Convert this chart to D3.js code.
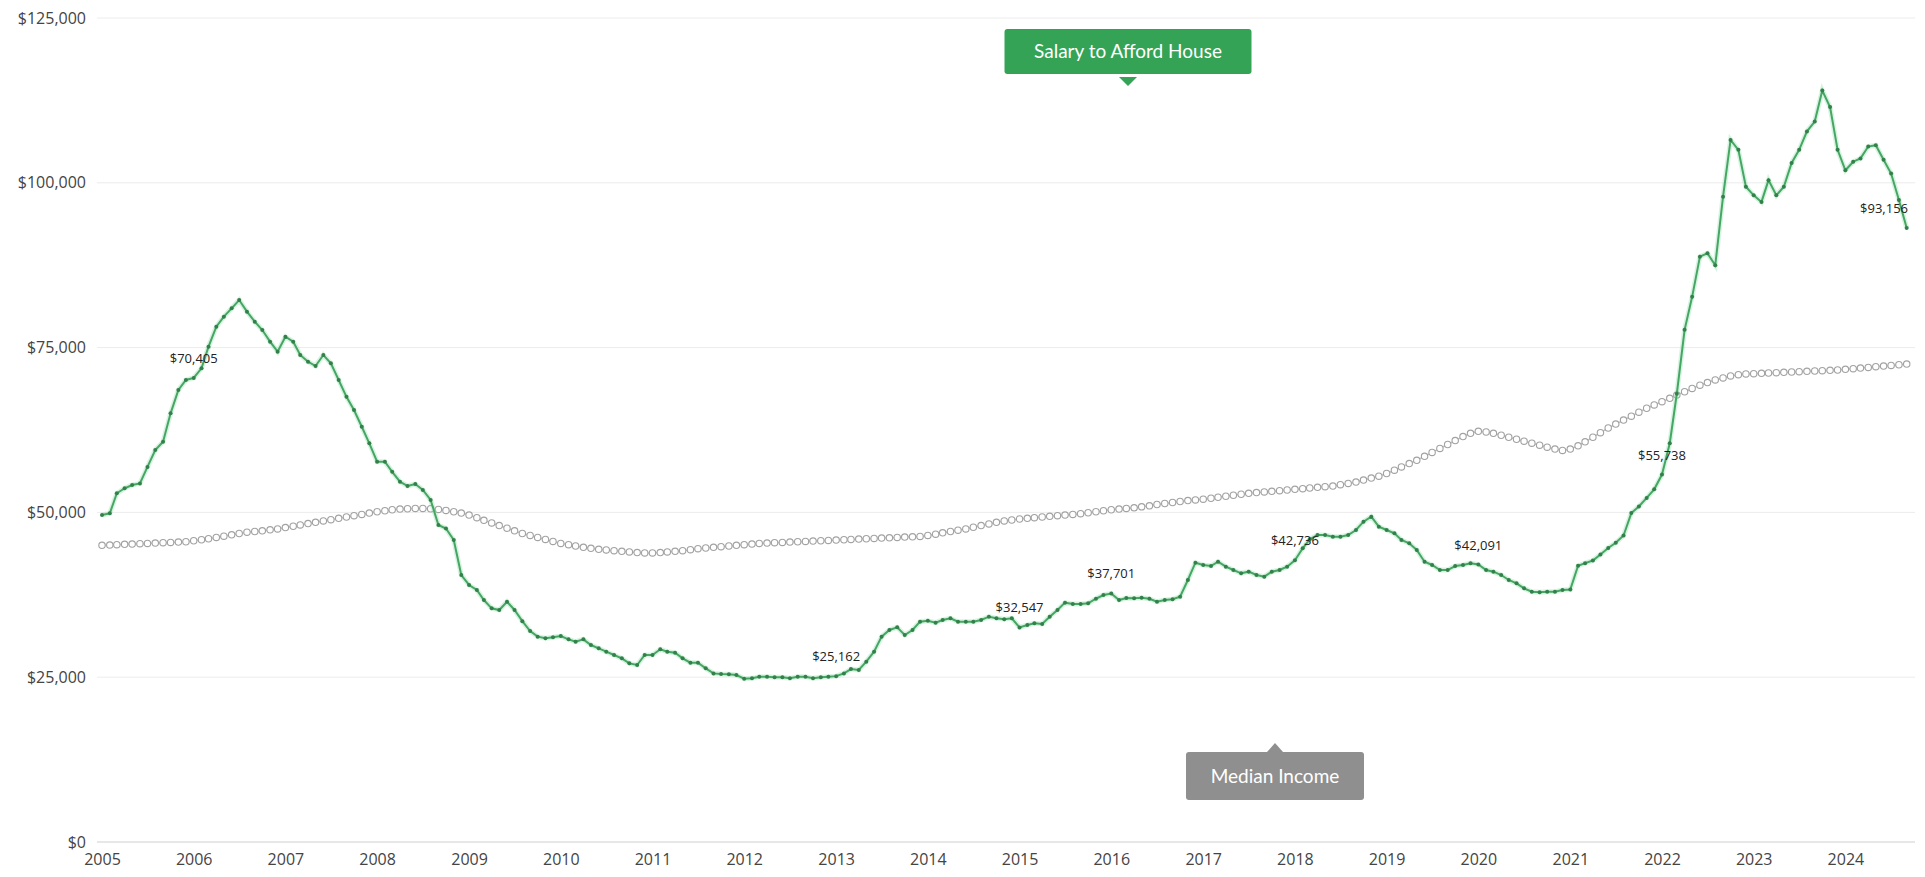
<!DOCTYPE html>
<html>
<head>
<meta charset="utf-8">
<script src="https://cdn.jsdelivr.net/npm/d3@7"></script>
<style>
  body { margin: 0; background: #fff; }
  svg { display: block; font-family: "Open Sans", sans-serif; }
</style>
</head>
<body>
<div id="chart"></div>
<script>
// Monthly series, starting January 2005
const startYear = 2005;

// Salary needed to afford a house ($)
const salaryToAfford = [
  49600, 49860, 52900, 53660, 54160, 54400, 56900, 59470, 60730, 65030, 68570, 70090,
  70405, 71860, 75140, 78170, 79690, 80960, 82220, 80450, 78930, 77670, 75900, 74380,
  76650, 75900, 73880, 72870, 72210, 73880, 72620, 70090, 67530, 65530, 63000, 60480,
  57690, 57690, 56160, 54660, 54000, 54310, 53400, 51880, 48090, 47560, 45810, 40500,
  38990, 38230, 36710, 35450, 35190, 36450, 35200, 33500, 32000, 31150, 30900, 31050,
  31250, 30740, 30390, 30740, 29880, 29380, 28870, 28370, 27860, 27100, 26850, 28370,
  28370, 29230, 28870, 28720, 27860, 27200, 27200, 26340, 25580, 25490, 25430, 25330,
  24780, 24830, 25080, 25080, 24980, 24980, 24830, 25080, 25080, 24830, 24980, 25080,
  25162, 25580, 26240, 26090, 27360, 28870, 31150, 32160, 32570, 31400, 32160, 33420,
  33570, 33270, 33680, 33930, 33420, 33420, 33420, 33680, 34180, 33930, 33780, 33930,
  32547, 32920, 33170, 33070, 34180, 35190, 36310, 36100, 36100, 36210, 36900, 37470,
  37701, 36700, 37000, 36970, 37060, 36900, 36450, 36710, 36820, 37210, 39750, 42370,
  42020, 41870, 42520, 41770, 41260, 40760, 41010, 40500, 40250, 41010, 41260, 41770,
  42736, 44550, 45920, 46570, 46570, 46320, 46320, 46570, 47330, 48590, 49350, 47830,
  47330, 46820, 45810, 45310, 44300, 42520, 42020, 41260, 41260, 41870, 42020, 42300,
  42091, 41260, 41010, 40500, 39750, 39240, 38480, 37970, 37870, 37970, 37970, 38230,
  38300, 41900, 42300, 42700, 43600, 44600, 45400, 46500, 49900, 50900, 52200, 53500,
  55738, 60500, 68000, 77700, 82700, 88800, 89300, 87500, 97900, 106500, 105000, 99400,
  98100, 97100, 100400, 98100, 99400, 103000, 105000, 107800, 109300, 114000, 111500, 105000,
  101900, 103200, 103700, 105500, 105700, 103500, 101400, 97400, 93156
];

// Median income (thousands of $)
const medianIncomeK = [
  45.0, 45.05, 45.1, 45.15, 45.2, 45.25, 45.3, 45.35, 45.4, 45.45, 45.5, 45.55,
  45.7, 45.85, 46.0, 46.2, 46.4, 46.6, 46.8, 47.0, 47.1, 47.2, 47.35, 47.5,
  47.7, 47.9, 48.1, 48.3, 48.5, 48.7, 48.9, 49.1, 49.3, 49.5, 49.7, 49.9,
  50.1, 50.25, 50.4, 50.5, 50.55, 50.6, 50.6, 50.55, 50.45, 50.3, 50.1, 49.9,
  49.6, 49.2, 48.8, 48.4, 48.0, 47.6, 47.2, 46.8, 46.5, 46.2, 45.9, 45.6,
  45.3, 45.1, 44.9, 44.7, 44.55, 44.4, 44.3, 44.2, 44.1, 44.0, 43.9, 43.85,
  43.85, 43.9, 44.0, 44.1, 44.2, 44.35, 44.5, 44.6, 44.7, 44.8, 44.9, 45.0,
  45.1, 45.2, 45.3, 45.35, 45.4, 45.45, 45.5, 45.55, 45.6, 45.65, 45.7, 45.75,
  45.8, 45.85, 45.9, 45.95, 46.0, 46.05, 46.1, 46.15, 46.2, 46.25, 46.3, 46.35,
  46.5, 46.7, 46.9, 47.1, 47.3, 47.5, 47.75, 48.0, 48.25, 48.5, 48.7, 48.85,
  49.0, 49.1, 49.2, 49.3, 49.4, 49.5, 49.6, 49.7, 49.8, 49.95, 50.1, 50.25,
  50.4, 50.5, 50.6, 50.7, 50.85, 51.0, 51.2, 51.35, 51.5, 51.65, 51.8, 51.9,
  52.0, 52.15, 52.3, 52.45, 52.6, 52.75, 52.9, 53.0, 53.1, 53.2, 53.3, 53.4,
  53.5, 53.6, 53.7, 53.8, 53.9, 54.0, 54.2, 54.4, 54.6, 54.9, 55.2, 55.5,
  55.9, 56.4, 56.9, 57.4, 57.9, 58.5, 59.1, 59.7, 60.3, 60.9, 61.5, 62.0,
  62.3, 62.2, 62.0, 61.7, 61.4, 61.1, 60.8, 60.5, 60.2, 59.9, 59.6, 59.4,
  59.6, 60.1, 60.7, 61.4, 62.1, 62.8, 63.4, 64.0, 64.6, 65.2, 65.8, 66.3,
  66.8, 67.3, 67.8, 68.3, 68.8, 69.3, 69.7, 70.1, 70.4, 70.7, 70.9, 71.0,
  71.05, 71.1, 71.15, 71.2, 71.25, 71.3, 71.35, 71.4, 71.45, 71.5, 71.55, 71.6,
  71.7, 71.8, 71.9, 72.0, 72.1, 72.2, 72.3, 72.4, 72.5
];

// Points of the salary line that carry a value label
const labelIndex = [12, 96, 120, 132, 156, 180, 204, 236];

const yTicks = [0, 25000, 50000, 75000, 100000, 125000];
const yearTicks = [2005, 2006, 2007, 2008, 2009, 2010, 2011, 2012, 2013, 2014,
                   2015, 2016, 2017, 2018, 2019, 2020, 2021, 2022, 2023, 2024];

const W = 1925, H = 877;
const plot = { left: 97, right: 1915, top: 18, bottom: 842 };

const salary = salaryToAfford.map((v, i) => ({ date: new Date(startYear, i, 1), value: v, i }));
const median = medianIncomeK.map((v, i) => ({ date: new Date(startYear, i, 1), value: v * 1000 }));

const svg = d3.select('#chart').append('svg')
  .attr('width', W)
  .attr('height', H);

const x = d3.scaleTime()
  .domain([salary[0].date, salary[salary.length - 1].date])
  .range([102, 1906.7]);

const y = d3.scaleLinear()
  .domain([0, 125000])
  .range([plot.bottom, plot.top]);

// Gridlines
svg.append('g')
  .selectAll('line')
  .data(yTicks.filter(d => d > 0))
  .join('line')
  .attr('x1', plot.left).attr('x2', plot.right)
  .attr('y1', d => y(d)).attr('y2', d => y(d))
  .attr('stroke', '#ececec')
  .attr('stroke-width', 1);

// Y axis
const yAxis = svg.append('g')
  .attr('transform', `translate(${plot.left},0)`)
  .call(d3.axisLeft(y).tickValues(yTicks).tickSize(0).tickPadding(11)
    .tickFormat(d => '$' + d3.format(',')(d)));
yAxis.select('.domain').remove();
yAxis.selectAll('text').attr('font-size', 16).attr('fill', '#444')
  .attr('font-family', '"Open Sans", sans-serif');

// X axis
const xAxis = svg.append('g')
  .attr('transform', `translate(0,${plot.bottom})`)
  .call(d3.axisBottom(x).tickValues(yearTicks.map(yr => new Date(yr, 0, 1)))
    .tickSize(0).tickPadding(12).tickFormat(d3.timeFormat('%Y')));
xAxis.select('.domain')
  .attr('d', `M${plot.left},0H${plot.right}`)
  .attr('stroke', '#cfcfcf');
xAxis.selectAll('text').attr('font-size', 16).attr('fill', '#444')
  .attr('font-family', '"Open Sans", sans-serif');

const line = d3.line()
  .x(d => x(d.date))
  .y(d => y(d.value));

// Median income line: hollow grey circles
svg.append('path')
  .datum(median)
  .attr('d', line)
  .attr('fill', 'none')
  .attr('stroke', '#c4c4c4')
  .attr('stroke-width', 1.5);

svg.append('g')
  .selectAll('circle')
  .data(median)
  .join('circle')
  .attr('cx', d => x(d.date))
  .attr('cy', d => y(d.value))
  .attr('r', 3.2)
  .attr('fill', '#fff')
  .attr('stroke', '#a2a2a2')
  .attr('stroke-width', 1.1);

// Salary line: green with small dots
svg.append('path')
  .datum(salary)
  .attr('d', line)
  .attr('fill', 'none')
  .attr('stroke', '#8fdcaa')
  .attr('stroke-width', 5)
  .attr('stroke-opacity', 0.35);

svg.append('path')
  .datum(salary)
  .attr('d', line)
  .attr('fill', 'none')
  .attr('stroke', '#45a763')
  .attr('stroke-width', 2);

svg.append('g')
  .selectAll('circle')
  .data(salary)
  .join('circle')
  .attr('cx', d => x(d.date))
  .attr('cy', d => y(d.value))
  .attr('r', 2)
  .attr('fill', '#33804b');

// Value labels
const last = salary.length - 1;
svg.append('g')
  .selectAll('text')
  .data(labelIndex.map(i => salary[i]))
  .join('text')
  .attr('x', d => d.i === last ? 1908 : x(d.date))
  .attr('y', d => y(d.value) - 15)
  .attr('text-anchor', d => d.i === last ? 'end' : 'middle')
  .attr('font-size', 13)
  .attr('fill', '#222')
  .text(d => '$' + d3.format(',')(d.value));

// Series callouts
function callout(cx, top, w, h, fill, text, arrowUp) {
  const g = svg.append('g');
  g.append('rect')
    .attr('x', cx - w / 2).attr('y', top)
    .attr('width', w).attr('height', h)
    .attr('rx', 3)
    .attr('fill', fill);
  const a = arrowUp
    ? `M${cx - 8},${top} L${cx},${top - 9} L${cx + 8},${top} Z`
    : `M${cx - 9},${top + h + 3} L${cx},${top + h + 12} L${cx + 9},${top + h + 3} Z`;
  g.append('path').attr('d', a).attr('fill', fill);
  g.append('text')
    .attr('x', cx).attr('y', top + h / 2)
    .attr('dy', '0.35em')
    .attr('text-anchor', 'middle')
    .attr('font-family', 'Lato, sans-serif')
    .attr('font-size', 19)
    .attr('fill', '#fff')
    .text(text);
}

callout(1128, 29, 247, 45, '#34a356', 'Salary to Afford House', false);
callout(1275, 752, 178, 48, '#8f8f8f', 'Median Income', true);
</script>
</body>
</html>
